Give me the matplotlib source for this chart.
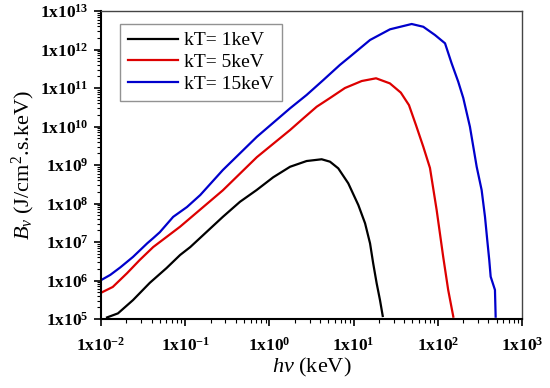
import matplotlib
matplotlib.use('Agg')
import matplotlib.pyplot as plt
from matplotlib.ticker import FuncFormatter, LogLocator, NullFormatter
import numpy as np

plt.rcParams['font.family'] = ['Liberation Serif', 'DejaVu Serif']
plt.rcParams['mathtext.fontset'] = 'custom'
plt.rcParams['mathtext.rm'] = 'Liberation Serif'
plt.rcParams['mathtext.it'] = 'Liberation Serif:italic'
plt.rcParams['mathtext.bf'] = 'Liberation Serif:bold'

# photon energy (keV) and spectral brightness
x_1kev = [0.0118, 0.0159, 0.024, 0.038, 0.060, 0.087, 0.115, 0.28, 0.448, 0.706,
          1.11, 1.76, 2.77, 4.18, 5.25, 6.58, 8.65, 11.4, 13.7, 15.7, 17.1, 18.8,
          20.6, 22.2]
y_1kev = [1.1e5, 1.4e5, 3.1e5, 8.7e5, 2.1e6, 4.6e6, 7.4e6, 4.5e7, 1.11e8, 2.24e8,
          4.8e8, 9.0e8, 1.27e9, 1.41e9, 1.22e9, 8.2e8, 3.35e8, 9.1e7, 3.06e7, 9.2e6,
          2.8e6, 8.5e5, 3.1e5, 1.2e5]

x_5kev = [0.01, 0.0138, 0.0204, 0.0288, 0.0417, 0.060, 0.087, 0.115, 0.28, 0.71,
          1.76, 2.53, 3.65, 5.25, 7.9, 12.5, 18.5, 27.0, 36.4, 45.5, 55.1, 67.3,
          80.8, 97, 116, 133, 153]
y_5kev = [4.8e5, 6.8e5, 1.55e6, 3.4e6, 7.4e6, 1.35e7, 2.5e7, 4.2e7, 2.2e8, 1.6e9,
          8.1e9, 1.63e10, 3.27e10, 5.5e10, 1.0e11, 1.52e11, 1.79e11, 1.32e11, 7.6e10,
          3.6e10, 1.09e10, 2.99e9, 8.4e8, 6.8e7, 4.15e6, 5.7e5, 1.15e5]

x_15kev = [0.01, 0.0129, 0.017, 0.024, 0.0355, 0.0417, 0.050, 0.072, 0.105, 0.151,
           0.28, 0.71, 1.76, 2.77, 4.37, 6.9, 9.05, 15.7, 27.1, 49.0, 67.3, 92.7,
           122, 146, 175, 201, 241, 290, 332, 364, 387, 409, 425, 478, 487]
y_15kev = [1.02e6, 1.4e6, 2.2e6, 4.1e6, 9.3e6, 1.26e7, 1.8e7, 4.5e7, 8.1e7, 1.66e8,
           7.4e8, 5.4e9, 2.97e10, 6.6e10, 1.61e11, 4.0e11, 6.5e11, 1.77e12, 3.35e12,
           4.6e12, 3.9e12, 2.38e12, 1.45e12, 4.4e11, 1.46e11, 5.5e10, 9.9e9, 9.0e8,
           2.24e8, 4.5e7, 1.13e7, 3.4e6, 1.26e6, 5.7e5, 1.15e5]

fig = plt.figure(figsize=(5.5, 3.88), dpi=100)
ax = fig.add_axes([0.1836, 0.1778, 0.7654, 0.7938])

ax.plot(x_1kev, y_1kev, color='black', lw=1.6, label='kT= 1keV')
ax.plot(x_5kev, y_5kev, color='#dd0000', lw=1.6, label='kT= 5keV')
ax.plot(x_15kev, y_15kev, color='#0000cc', lw=1.6, label='kT= 15keV')

ax.set_xscale('log')
ax.set_yscale('log')
ax.set_xlim(1e-2, 1e3)
ax.set_ylim(1e5, 1e13)


def sci_fmt(v, pos):
    e = int(round(np.log10(v)))
    return r'$\mathbf{1x10^{%d}}$' % e


ax.xaxis.set_major_locator(LogLocator(base=10, numticks=20))
ax.yaxis.set_major_locator(LogLocator(base=10, numticks=20))
ax.xaxis.set_minor_locator(LogLocator(base=10, subs=np.arange(2, 10), numticks=20))
ax.yaxis.set_minor_locator(LogLocator(base=10, subs=np.arange(2, 10), numticks=20))
ax.xaxis.set_major_formatter(FuncFormatter(sci_fmt))
ax.yaxis.set_major_formatter(FuncFormatter(sci_fmt))
ax.xaxis.set_minor_formatter(NullFormatter())
ax.yaxis.set_minor_formatter(NullFormatter())
ax.tick_params(which='major', length=5, width=1.2, labelsize=12.5, direction='out')
ax.tick_params(which='minor', length=3, width=0.8, direction='out')
ax.tick_params(axis='x', pad=8)
ax.tick_params(axis='y', pad=4)

for s in ['left', 'bottom']:
    ax.spines[s].set_linewidth(1.5)
for s in ['top', 'right']:
    ax.spines[s].set_linewidth(1.0)
    ax.spines[s].set_color('#444444')

ax.set_xlabel(r'$h\nu$ (keV)', fontsize=16, labelpad=1)
ax.set_ylabel(r'$B_\nu$ (J/cm$^2$.s.keV)', fontsize=16, labelpad=2)

leg = ax.legend(loc='upper left', bbox_to_anchor=(0.045, 0.958), fontsize=14,
                frameon=True, fancybox=False, edgecolor='#777777',
                handlelength=2.6, handletextpad=0.3, labelspacing=0.22,
                borderpad=0.4, borderaxespad=0)
leg.get_frame().set_linewidth(1.0)

fig.savefig('out.png', dpi=100)
